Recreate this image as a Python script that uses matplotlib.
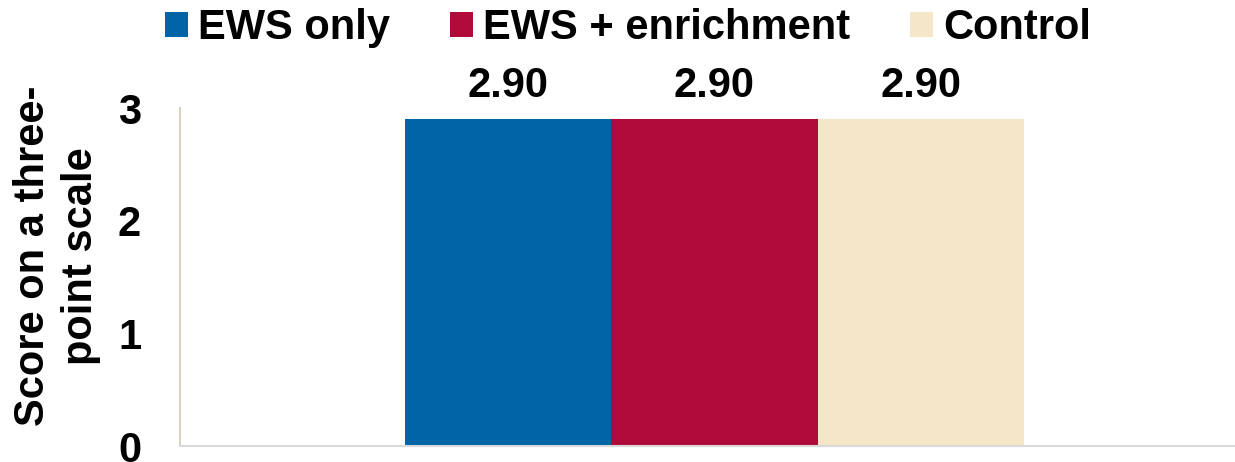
import matplotlib
matplotlib.use("Agg")
import matplotlib.pyplot as plt
from matplotlib.patches import Patch

plt.rcParams['font.family'] = ['Liberation Sans', 'DejaVu Sans']
plt.rcParams['font.weight'] = 'bold'

series = ["EWS only", "EWS + enrichment", "Control"]
values = [2.90, 2.90, 2.90]
colors = ["#0064A7", "#B00A3A", "#F5E6C7"]
y_ticks = [0, 1, 2, 3]

W, H = 1235, 462
fig = plt.figure(figsize=(W / 100, H / 100), dpi=100)
ax = fig.add_axes([180 / W, 1 - 446 / H, 1 - 180 / W, (446 - 108) / H])

bar_w = 0.2
offsets = [-bar_w, 0.0, bar_w]
for off, v, c, name in zip(offsets, values, colors, series):
    ax.bar(off, v, width=bar_w, color=c, label=name)
    ax.text(off, v + 0.12, f"{v:.2f}", ha="center", va="bottom",
            fontsize=30, fontweight="bold")

ax.set_xlim(-0.518, 0.5045)
ax.set_ylim(0, 3)
ax.set_yticks(y_ticks)
ax.set_yticklabels([str(t) for t in y_ticks], fontsize=30, fontweight="bold")
ax.set_xticks([])
ax.tick_params(axis="y", length=0, pad=28)
for s in ("top", "right"):
    ax.spines[s].set_visible(False)
ax.spines["left"].set_color("#D8D3C0")
ax.spines["left"].set_linewidth(1.5)
ax.spines["bottom"].set_color("#D9D9D9")
ax.spines["bottom"].set_linewidth(1.5)

fig.text(57 / W, 1 - 256 / H, "Score on a three-\npoint scale", rotation=90,
         ha="center", va="center", fontsize=30, fontweight="bold",
         linespacing=1.28)

handles = [Patch(facecolor=c, edgecolor="none") for c in colors]
fig.legend(handles, series, loc="center", bbox_to_anchor=(628 / W, 1 - 28 / H),
           ncol=3, frameon=False, fontsize=30, handlelength=0.55,
           handleheight=0.55, handletextpad=0.25, columnspacing=1.43,
           borderpad=0, borderaxespad=0)

fig.savefig("out.png", dpi=100)
